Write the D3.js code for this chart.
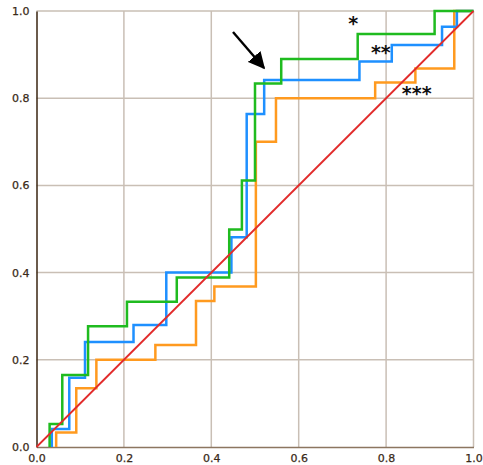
<!DOCTYPE html>
<html>
<head>
<meta charset="utf-8">
<script src="https://cdn.jsdelivr.net/npm/d3@7"></script>
<style>
  body { margin: 0; background: #fff; }
  svg text { font-family: "DejaVu Sans", Verdana, sans-serif; }
</style>
</head>
<body>
<svg id="chart" width="483" height="465"></svg>
<script>
// step curves: x where each jump happens, and the level after it
const greenJumps  = [0.030, 0.059, 0.118, 0.207, 0.321, 0.441, 0.470, 0.500, 0.560, 0.735, 0.911]
const greenLevels = [0.053, 0.165, 0.277, 0.333, 0.389, 0.499, 0.611, 0.834, 0.890, 0.947, 1.000]

const blueJumps  = [0.035, 0.075, 0.111, 0.222, 0.297, 0.446, 0.481, 0.521, 0.739, 0.813, 0.928, 0.962]
const blueLevels = [0.041, 0.159, 0.241, 0.280, 0.400, 0.481, 0.764, 0.842, 0.884, 0.922, 0.964, 1.000]

const orangeJumps  = [0.045, 0.091, 0.137, 0.272, 0.365, 0.407, 0.502, 0.548, 0.775, 0.867, 0.956]
const orangeLevels = [0.033, 0.135, 0.200, 0.234, 0.335, 0.368, 0.700, 0.800, 0.836, 0.868, 1.000]

const ticks = [0, 0.2, 0.4, 0.6, 0.8, 1.0]

const annotations = [
  {text: "*",   x: 0.725, y: 0.972},
  {text: "**",  x: 0.788, y: 0.905},
  {text: "***", x: 0.87,  y: 0.813}
]

const svg = d3.select("svg#chart")
const x = d3.scaleLinear().domain([0, 1]).range([36.5, 473.5])
const y = d3.scaleLinear().domain([0, 1]).range([447, 11])

// grid
const grid = svg.append("g")
    .attr("stroke", "#c9bfb5")
    .attr("stroke-width", 1.5)
grid.selectAll("line.v")
  .data(ticks.slice(1))
  .join("line")
    .attr("x1", d => x(d)).attr("x2", d => x(d))
    .attr("y1", y(0)).attr("y2", y(1))
grid.selectAll("line.h")
  .data(ticks.slice(1))
  .join("line")
    .attr("y1", d => y(d)).attr("y2", d => y(d))
    .attr("x1", x(0)).attr("x2", x(1))

// axes
const xAxis = svg.append("g")
    .attr("transform", `translate(0,${y(0)})`)
    .call(d3.axisBottom(x).tickValues(ticks).tickFormat(d3.format(".1f")).tickSize(0).tickPadding(7))
xAxis.select(".domain").attr("stroke", "#8c7660").attr("stroke-width", 1.5)

const yAxis = svg.append("g")
    .attr("transform", `translate(${x(0)},0)`)
    .call(d3.axisLeft(y).tickValues(ticks).tickFormat(d3.format(".1f")).tickSize(0).tickPadding(7))
yAxis.select(".domain").attr("stroke", "#3a2410").attr("stroke-width", 1.5)

svg.selectAll(".tick text")
    .attr("font-size", 11)
    .attr("fill", "#3a2a18")
    .attr("stroke", "#3a2a18")
    .attr("stroke-width", 0.25)
    .attr("font-family", "DejaVu Sans, sans-serif")

// step lines
const stepPoints = (jumps, levels) =>
  [[jumps[0], 0]].concat(jumps.map((j, i) => [j, levels[i]]), [[1, levels[levels.length - 1]]])

const line = d3.line()
    .x(d => x(d[0]))
    .y(d => y(d[1]))
    .curve(d3.curveStepAfter)

const series = [
  {pts: stepPoints(orangeJumps, orangeLevels), color: "#ff9a1f"},
  {pts: stepPoints(blueJumps, blueLevels), color: "#1e90ff"},
  {pts: stepPoints(greenJumps, greenLevels), color: "#1fbb1f"}
]

svg.append("g")
    .attr("fill", "none")
    .attr("stroke-width", 2.5)
  .selectAll("path")
  .data(series)
  .join("path")
    .attr("stroke", d => d.color)
    .attr("d", d => line(d.pts))

// diagonal
svg.append("path")
    .attr("d", line.curve(d3.curveLinear)([[0, 0], [1, 1]]))
    .attr("stroke", "#e22b2b")
    .attr("stroke-width", 1.8)
    .attr("fill", "none")

// arrow
svg.append("defs").append("marker")
    .attr("id", "head")
    .attr("viewBox", "0 0 10 10")
    .attr("refX", 9).attr("refY", 5)
    .attr("markerWidth", 7).attr("markerHeight", 7)
    .attr("markerUnits", "strokeWidth")
    .attr("orient", "auto")
  .append("path")
    .attr("d", "M0,0 L10,5 L0,10 Z")
    .attr("fill", "#000")

svg.append("line")
    .attr("x1", 233).attr("y1", 32)
    .attr("x2", 264).attr("y2", 68)
    .attr("stroke", "#000")
    .attr("stroke-width", 2.4)
    .attr("marker-end", "url(#head)")

svg.append("g")
  .selectAll("text")
  .data(annotations)
  .join("text")
    .attr("x", d => x(d.x))
    .attr("y", d => y(d.y))
    .attr("text-anchor", "middle")
    .attr("dominant-baseline", "central")
    .attr("font-size", 19)
    .attr("font-weight", "bold")
    .attr("fill", "#111")
    .text(d => d.text)
</script>
</body>
</html>
